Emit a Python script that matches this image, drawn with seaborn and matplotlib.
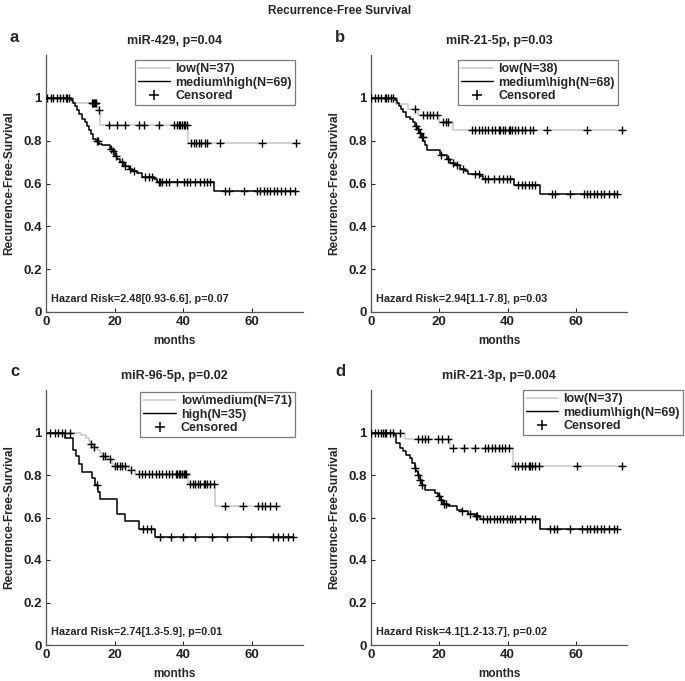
import numpy as np
import pandas as pd
import matplotlib
matplotlib.use('Agg')
import matplotlib.pyplot as plt
from matplotlib.lines import Line2D
import seaborn as sns

# ---- data (step times / survival levels / censor times) ----
a_low_t = [7.7, 15.3, 15.9, 41.5]
a_low_s = [0.975, 0.945, 0.875, 0.789]
a_low_cens = [1.4, 3.1, 5.0, 6.2, 13.3, 13.7, 14.0, 14.3, 14.7, 15.5, 18.3, 20.8, 23.2, 27.1, 28.5,
              32.9, 37.3, 38.3, 38.7, 39.2, 39.7, 40.2, 40.7, 41.2, 42.4, 43.1, 43.9, 44.6, 45.1,
              46.5, 47.0, 50.9, 63.0, 73.0]
a_high_t = [7.2, 8.0, 8.6, 9.1, 9.6, 10.6, 11.3, 12.0, 12.5, 13.0, 13.7, 14.5, 15.4, 16.4, 18.8,
            19.3, 20.1, 20.8, 21.7, 22.7, 24.2, 25.1, 26.6, 28.1, 31.5, 32.4, 49.1]
a_high_s = [0.99, 0.975, 0.96, 0.945, 0.925, 0.90, 0.885, 0.87, 0.85, 0.83, 0.81, 0.80, 0.785,
            0.778, 0.763, 0.75, 0.73, 0.716, 0.70, 0.682, 0.67, 0.657, 0.647, 0.631, 0.62, 0.608, 0.565]
a_high_cens = [0.4, 2.1, 4.1, 5.7, 6.7, 15.0, 15.3, 19.0, 19.6, 20.4, 22.2, 23.2, 24.4, 25.6, 29.0,
               30.0, 31.0, 32.9, 33.4, 33.9, 34.9, 35.8, 38.3, 40.2, 41.2, 42.1, 43.6, 45.0, 46.0,
               47.0, 48.0, 52.3, 53.3, 57.7, 61.6, 62.5, 63.5, 64.5, 65.4, 66.4, 67.4, 68.5, 69.8,
               71.3, 72.7]

b_low_t = [7.4, 10.7, 13.8, 19.9, 24.1]
b_low_s = [0.973, 0.946, 0.918, 0.887, 0.848]
b_low_cens = [1.1, 3.0, 4.5, 6.0, 12.8, 15.3, 16.3, 17.2, 18.2, 19.2, 21.2, 21.9, 22.6, 29.5, 30.5,
              31.5, 32.5, 33.4, 34.4, 35.4, 36.4, 37.4, 37.8, 38.8, 39.3, 40.3, 40.8, 41.3, 42.3,
              43.2, 44.2, 45.2, 46.7, 47.6, 51.6, 63.3, 73.6]
b_high_t = [7.0, 7.5, 8.1, 8.9, 9.4, 10.4, 11.4, 12.4, 12.8, 13.5, 14.1, 14.6, 15.3, 15.8, 16.3,
            20.2, 22.2, 23.1, 24.6, 26.1, 27.5, 28.5, 32.0, 32.9, 41.8, 49.6]
b_high_s = [0.99, 0.975, 0.96, 0.95, 0.935, 0.91, 0.90, 0.886, 0.87, 0.856, 0.837, 0.817, 0.80,
            0.778, 0.755, 0.735, 0.713, 0.698, 0.685, 0.67, 0.657, 0.646, 0.636, 0.623, 0.592, 0.549]
b_high_cens = [0.1, 2.1, 4.0, 5.0, 6.5, 13.3, 13.8, 14.3, 14.8, 15.2, 20.6, 22.6, 24.1, 25.1, 27.0,
               30.5, 31.5, 33.4, 34.4, 35.9, 37.4, 38.8, 39.8, 40.8, 43.2, 44.2, 45.2, 46.2, 47.2,
               48.1, 53.0, 54.0, 58.4, 62.4, 63.3, 64.3, 65.3, 66.3, 67.3, 68.2, 69.7, 71.2, 72.2]

c_low_t = [10.1, 11.6, 12.5, 12.9, 13.8, 15.0, 15.9, 16.4, 17.9, 19.3, 19.8, 24.2, 26.1, 41.4, 49.2]
c_low_s = [0.986, 0.975, 0.96, 0.945, 0.932, 0.92, 0.904, 0.888, 0.873, 0.854, 0.844, 0.822,
           0.806, 0.759, 0.653]
c_low_cens = [1.2, 3.6, 5.5, 7.0, 13.0, 14.0, 16.6, 17.1, 18.8, 20.1, 20.8, 21.5, 22.2, 23.2, 24.8,
              27.1, 28.1, 29.0, 30.0, 31.0, 32.0, 32.9, 33.9, 34.9, 35.8, 36.8, 37.8, 38.3, 38.7,
              39.2, 39.7, 40.2, 40.7, 41.0, 42.1, 42.9, 43.6, 44.3, 45.0, 46.0, 46.5, 47.0, 48.0,
              49.0, 52.3, 57.5, 62.0, 63.0, 64.0, 65.5, 67.1]
c_high_t = [5.5, 7.8, 8.9, 9.7, 10.4, 13.3, 14.4, 15.2, 15.7, 20.7, 23.0, 27.0, 31.7]
c_high_s = [0.972, 0.92, 0.888, 0.85, 0.813, 0.784, 0.755, 0.72, 0.687, 0.615, 0.583, 0.546, 0.508]
c_high_cens = [2.6, 4.6, 14.8, 28.3, 29.4, 30.5, 33.2, 36.6, 40.0, 43.4, 48.3, 52.8, 59.9, 66.2,
               67.7, 69.1, 70.6, 72.0]

d_low_t = [10.1, 23.1, 41.5]
d_low_s = [0.97, 0.928, 0.844]
d_low_cens = [1.1, 3.0, 4.0, 5.5, 8.4, 13.8, 14.8, 15.8, 16.8, 19.7, 20.7, 22.5, 24.1, 27.1, 30.5,
              33.4, 34.4, 35.4, 36.4, 37.4, 38.3, 39.3, 40.3, 42.3, 43.2, 44.2, 45.2, 46.2, 46.7,
              47.2, 48.1, 49.1, 60.4, 73.6]
d_high_t = [6.8, 7.45, 8.4, 9.4, 10.4, 11.4, 11.9, 12.9, 13.3, 13.8, 14.3, 14.8, 15.8, 18.7, 19.7,
            20.2, 21.2, 22.6, 25.1, 26.6, 28.5, 30.5, 32.0, 49.6]
d_high_s = [0.99, 0.95, 0.928, 0.912, 0.896, 0.88, 0.857, 0.833, 0.818, 0.80, 0.778, 0.755, 0.731,
            0.715, 0.70, 0.684, 0.665, 0.652, 0.637, 0.629, 0.618, 0.608, 0.593, 0.545]
d_high_cens = [0.1, 2.1, 3.5, 4.5, 6.5, 13.0, 13.9, 14.4, 14.9, 19.9, 20.4, 21.4, 21.9, 26.8, 29.0,
               30.7, 31.2, 32.9, 33.9, 34.9, 35.9, 36.9, 37.9, 38.8, 39.8, 40.8, 41.3, 42.3, 43.7,
               45.2, 47.2, 48.1, 52.5, 53.5, 54.5, 58.4, 61.9, 63.3, 64.3, 65.3, 66.3, 67.3, 68.2,
               69.7, 71.2, 72.2]

letters = ['a', 'b', 'c', 'd']
titles = ['miR-429, p=0.04', 'miR-21-5p, p=0.03', 'miR-96-5p, p=0.02', 'miR-21-3p, p=0.004']
low_labels = ['low(N=37)', 'low(N=38)', 'low\\medium(N=71)', 'low(N=37)']
high_labels = ['medium\\high(N=69)', 'medium\\high(N=68)', 'high(N=35)', 'medium\\high(N=69)']
hazard = ['Hazard Risk=2.48[0.93-6.6], p=0.07', 'Hazard Risk=2.94[1.1-7.8], p=0.03',
          'Hazard Risk=2.74[1.3-5.9], p=0.01', 'Hazard Risk=4.1[1.2-13.7], p=0.02']

panels = [
    (a_low_t, a_low_s, a_low_cens, a_high_t, a_high_s, a_high_cens),
    (b_low_t, b_low_s, b_low_cens, b_high_t, b_high_s, b_high_cens),
    (c_low_t, c_low_s, c_low_cens, c_high_t, c_high_s, c_high_cens),
    (d_low_t, d_low_s, d_low_cens, d_high_t, d_high_s, d_high_cens),
]

sns.set_style('ticks')
plt.rcParams['font.family'] = ['Liberation Sans', 'DejaVu Sans']
plt.rcParams['font.weight'] = 'bold'
plt.rcParams['axes.titleweight'] = 'bold'
plt.rcParams['axes.labelweight'] = 'bold'

W, H = 685, 681
fig = plt.figure(figsize=(W / 100, H / 100), dpi=100)

# axes boxes in pixels: left, top, right, bottom
boxes = [(46, 55, 303, 312), (371, 55, 627, 312), (46, 390, 303, 645), (371, 390, 627, 645)]
# legend upper-right corner in pixels
leg_corner = [(295, 60), (618, 60), (295, 392), (683, 390)]

GRAY = '#c8c8c8'


def curve(step_t, step_s, cens):
    end = max(cens[-1], step_t[-1])
    t = [0.0] + list(step_t) + [end]
    s = [1.0] + list(step_s) + [step_s[-1]]
    line = pd.DataFrame({'t': t, 's': s})
    idx = np.searchsorted(np.array(step_t), np.array(cens), side='right')
    levels = np.array([1.0] + list(step_s))
    marks = pd.DataFrame({'t': cens, 's': levels[idx]})
    return line, marks


for i, (lt, ls, lc, ht, hs, hc) in enumerate(panels):
    l, tp, r, b = boxes[i]
    ax = fig.add_axes([l / W, 1 - b / H, (r - l) / W, (b - tp) / H])
    low_line, low_marks = curve(lt, ls, lc)
    high_line, high_marks = curve(ht, hs, hc)

    sns.lineplot(data=low_line, x='t', y='s', ax=ax, color=GRAY, lw=1.1,
                 drawstyle='steps-post', sort=False, estimator=None)
    sns.lineplot(data=high_line, x='t', y='s', ax=ax, color='black', lw=1.1,
                 drawstyle='steps-post', sort=False, estimator=None)
    marks = pd.concat([low_marks, high_marks])
    sns.scatterplot(data=marks, x='t', y='s', ax=ax, marker='+', color='black',
                    s=40, linewidth=1.0, zorder=5)

    ax.set_xlim(0, 75)
    ax.set_ylim(0, 1.2)
    ax.set_xticks([0, 20, 40, 60])
    ax.set_yticks([0, 0.2, 0.4, 0.6, 0.8, 1])
    ax.set_yticklabels(['0', '0.2', '0.4', '0.6', '0.8', '1'])
    ax.tick_params(direction='in', length=3, width=0.8, labelsize=9.5, pad=3, colors='#222222')
    for lab in ax.get_xticklabels() + ax.get_yticklabels():
        lab.set_fontweight('bold')
    sns.despine(ax=ax)
    for sp in ['left', 'bottom']:
        ax.spines[sp].set_color('#555555')
        ax.spines[sp].set_linewidth(0.9)

    ax.set_xlabel('months', fontsize=8.5, labelpad=5)
    ax.set_ylabel('Recurrence-Free-Survival', fontsize=8.5, labelpad=6)
    ax.set_title(titles[i], fontsize=9, pad=8)
    ax.text(1.5, 0.06, hazard[i], fontsize=7.8, fontweight='bold', va='center', ha='left')

    handles = [Line2D([], [], color=GRAY, lw=1.1),
               Line2D([], [], color='black', lw=1.0),
               Line2D([], [], color='black', ls='none', marker='+', ms=6.5, mew=1.1)]
    cx, cy = leg_corner[i]
    leg = ax.legend(handles, [low_labels[i], high_labels[i], 'Censored'],
                    loc='upper right', bbox_to_anchor=(cx / W, 1 - cy / H),
                    bbox_transform=fig.transFigure, borderaxespad=0,
                    fontsize=9, handlelength=2.6, handletextpad=0.4,
                    labelspacing=0.12, borderpad=0.25, fancybox=False, framealpha=1)
    leg.get_frame().set_edgecolor('#7a7a7a')
    leg.get_frame().set_linewidth(0.9)
    for txt in leg.get_texts():
        txt.set_fontweight('bold')

    fig.text((l - 36) / W, 1 - (tp - 18) / H, letters[i], fontsize=12, fontweight='bold',
             ha='left', va='center')

fig.text(340 / W, 1 - 11 / H, 'Recurrence-Free Survival', fontsize=8.5, fontweight='bold',
         ha='center', va='center')

fig.savefig('out.png', dpi=100)
